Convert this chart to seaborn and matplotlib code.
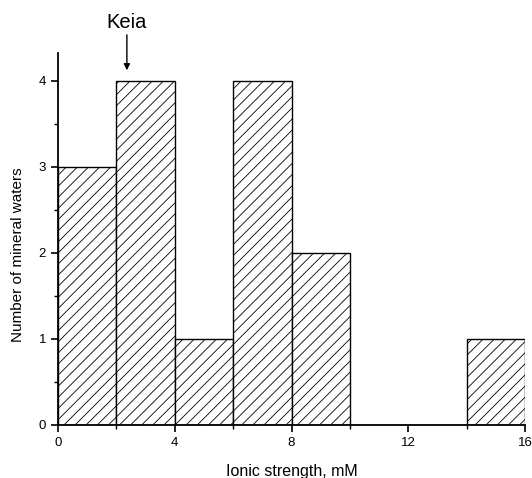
import numpy as np
import matplotlib
matplotlib.use("Agg")
import matplotlib.pyplot as plt
import seaborn as sns

# bin centres (ionic strength, mM) and counts of mineral waters
strength = [1, 3, 5, 7, 9, 11, 13, 15]
counts = [3, 4, 1, 4, 2, 0, 0, 1]
edges = [0, 2, 4, 6, 8, 10, 12, 14, 16]

sns.set_style("ticks")
plt.rcParams['font.family'] = ['Liberation Sans', 'DejaVu Sans']
plt.rcParams['hatch.linewidth'] = 0.6
plt.rcParams['text.color'] = 'black'
plt.rcParams['axes.labelcolor'] = 'black'
plt.rcParams['xtick.color'] = 'black'
plt.rcParams['ytick.color'] = 'black'

fig = plt.figure(figsize=(5.32, 4.78), dpi=100)
ax = fig.add_axes([0.109, 0.111, 0.878, 0.778])

sns.histplot(x=strength, weights=counts, bins=edges, ax=ax,
             color="white", edgecolor="black", linewidth=1.0, alpha=1)
for p in ax.patches:
    p.set_hatch("///")
    p.set_facecolor("white")

ax.set_xlim(0, 16)
ax.set_ylim(0, 4.32)
ax.set_xticks([0, 4, 8, 12, 16])
ax.set_xticks([2, 6, 10, 14], minor=True)
ax.set_yticks([0, 1, 2, 3, 4])
ax.set_yticks([0.5, 1.5, 2.5, 3.5], minor=True)
ax.tick_params(which="major", length=5, width=1.2, labelsize=9.5, direction="out",
               colors="black")
ax.tick_params(which="minor", length=3, width=1.0, direction="out", colors="black")
sns.despine(ax=ax)
for s in ["left", "bottom"]:
    ax.spines[s].set_linewidth(1.3)
    ax.spines[s].set_color("black")

ax.set_xlabel("Ionic strength, mM", fontsize=11.5)
ax.set_ylabel("Number of mineral waters", fontsize=11)
ax.xaxis.set_label_coords(0.5, -0.105)
ax.yaxis.set_label_coords(-0.071, 0.457)

ax.annotate("Keia", xy=(2.36, 4.12), xytext=(2.36, 4.68),
            ha="center", va="center", fontsize=14.5, annotation_clip=False,
            arrowprops=dict(arrowstyle="-|>", color="black", lw=1.0,
                            shrinkA=0, shrinkB=0, mutation_scale=9))

fig.savefig("out.png", dpi=100)
